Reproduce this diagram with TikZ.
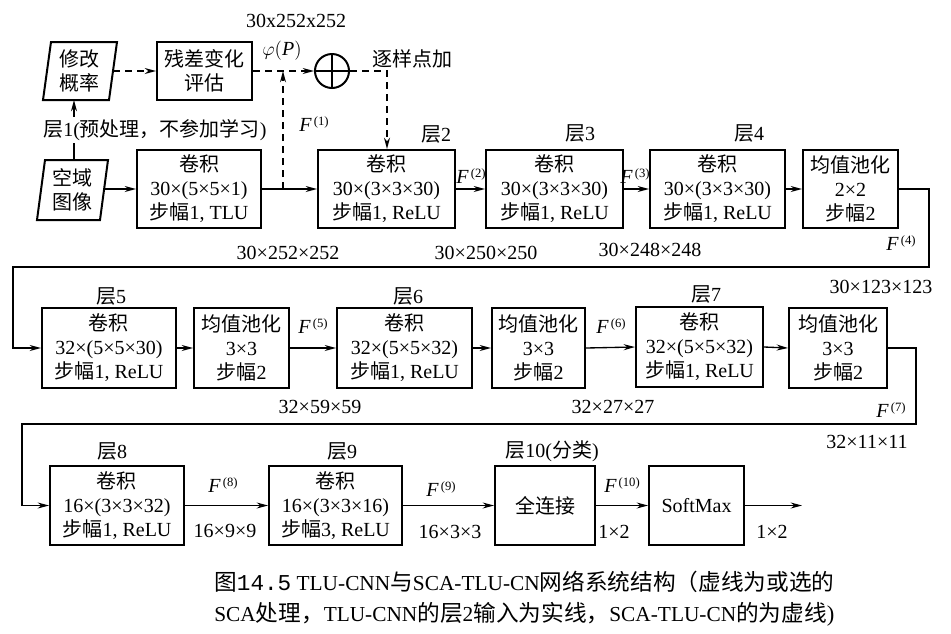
\documentclass[tikz,border=0pt]{standalone}
\usepackage{fontspec}
\setmainfont{Liberation Serif}
\newfontfamily\cjkfont{Noto Sans CJK SC}
\newfontfamily\capmono{Liberation Mono}
\newcommand\zh[1]{{\cjkfont #1}}
\newcommand\Fl[1]{\textit{F}\kern1.5pt{\fontsize{9.5}{9.5}\selectfont\raisebox{1.1ex}{(#1)}}}
\usetikzlibrary{arrows.meta}
\begin{document}
\begin{tikzpicture}[x=0.75pt,y=-0.75pt,
  font=\fontsize{15}{18}\selectfont,
  bx/.style 2 args={draw, line width=1.5pt, minimum width=#1*0.75pt, minimum height=#2*0.75pt, inner sep=0pt, align=center},
  lbl/.style={inner sep=0pt},
  conn/.style={line width=1pt},
  arr/.style={line width=1pt, -{Stealth[length=8.5pt,width=4.5pt]}},
  dsh/.style={line width=1pt, dash pattern=on 5.5pt off 3.5pt}
]
\useasboundingbox (0,0) rectangle (951,633);
\fill[white] (0,0) rectangle (951,633);

% ---------- top row (SCA branch) ----------
\draw[line width=1.5pt] (51,42) -- (117,42) -- (109,100) -- (43,100) -- cycle;
\node[lbl, align=center] (xg) at (80,71) {\zh{修改}\\\zh{概率}};
\coordinate (xgE) at (113,71);
\coordinate (xgS) at (74,100);

\node[bx={95}{58}] (cc) at (204.5,71) {\zh{残差变化}\\\zh{评估}};
\node[draw, circle, line width=1.5pt, minimum size=25.5pt, inner sep=0pt] (sum) at (332,71) {};
\draw[line width=1pt] (sum.west) -- (sum.east) (sum.north) -- (sum.south);

\node[lbl] (dimtop) at (296,21) {30x252x252};
\node[lbl] (phi) at (282,51) {$\varphi(\textit{P})$};
\node[lbl] (zyd) at (412,59) {\zh{逐样点加}};
\node[lbl] (f1) at (314,124) {\Fl{1}};

% ---------- row 1 ----------
\draw[line width=1.5pt] (45,160) -- (108,160) -- (100,220) -- (37,220) -- cycle;
\node[lbl, align=center] (ky) at (72,190) {\zh{空域}\\\zh{图像}};
\coordinate (kyE) at (104,189);
\coordinate (kyN) at (74,160);

\node[bx={124}{78}] (c1) at (199,189) {\zh{卷积}\\30×(5×5×1)\\\zh{步幅}1, TLU};
\node[bx={137}{78}] (c2) at (386.5,189) {\zh{卷积}\\30×(3×3×30)\\\zh{步幅}1, ReLU};
\node[bx={137}{78}] (c3) at (554.5,189) {\zh{卷积}\\30×(3×3×30)\\\zh{步幅}1, ReLU};
\node[bx={135}{78}] (c4) at (717.5,189) {\zh{卷积}\\30×(3×3×30)\\\zh{步幅}1, ReLU};
\node[bx={95}{78}] (p1) at (850.5,189) {\zh{均值池化}\\2×2\\\zh{步幅}2};

\node[lbl] (l2) at (436,134) {\zh{层}2};
\node[lbl] (l3) at (580,133) {\zh{层}3};
\node[lbl] (l4) at (749,133) {\zh{层}4};

\coordinate (jn) at (283,189);
\coordinate (jt) at (283,71);
\coordinate (dn) at (387,71);

\draw[arr] (kyE) -- (c1.west);
\draw[arr] (c1.east) -- (c2.west);
\draw[arr] (c2.east) -- (c3.west);
\draw[arr] (c3.east) -- (c4.west);
\draw[arr] (c4.east) -- (p1.west);

\draw[dsh, -{Stealth[length=8.5pt,width=4.5pt]}] (xgE) -- (cc.west);
\draw[dsh, -{Stealth[length=8.5pt,width=4.5pt]}] (cc.east) -- (sum.west);
\draw[dsh, -{Stealth[length=8.5pt,width=4.5pt]}] (jn) -- (jt);
\draw[dsh, -{Stealth[length=8.5pt,width=4.5pt]}] (sum.east) -- (dn) -- (c2.north -| dn);

\draw[arr] (kyN) -- (xgS);
\node[lbl, fill=white, inner ysep=2pt] (l1) at (155,130) {\zh{层}1(\zh{预处理，不参加学习})};

\node[lbl] (f2) at (471,176) {\Fl{2}};
\node[lbl] (f3) at (635,176) {\Fl{3}};
\node[lbl] (d1) at (288,253) {30×252×252};
\node[lbl] (d2) at (486,253) {30×250×250};
\node[lbl] (d3) at (650,250) {30×248×248};
\node[lbl] (f4) at (901,243) {\Fl{4}};
\node[lbl] (d4) at (881,287) {30×123×123};

% ---------- row 2 ----------
\node[bx={134}{80}] (c5) at (109,348) {\zh{卷积}\\32×(5×5×30)\\\zh{步幅}1, ReLU};
\node[bx={95}{80}] (p2) at (241.5,348) {\zh{均值池化}\\3×3\\\zh{步幅}2};
\node[bx={135}{80}] (c6) at (404.5,348) {\zh{卷积}\\32×(5×5×32)\\\zh{步幅}1, ReLU};
\node[bx={93}{80}] (p3) at (538.5,348) {\zh{均值池化}\\3×3\\\zh{步幅}2};
\node[bx={127}{80}] (c7) at (699.5,347) {\zh{卷积}\\32×(5×5×32)\\\zh{步幅}1, ReLU};
\node[bx={98}{80}] (p4) at (838,348) {\zh{均值池化}\\3×3\\\zh{步幅}2};

\node[lbl] (l5) at (111,296) {\zh{层}5};
\node[lbl] (l6) at (408,296) {\zh{层}6};
\node[lbl] (l7) at (706,294) {\zh{层}7};

\coordinate (r1a) at (929,189);
\coordinate (r1b) at (929,267);
\coordinate (r1c) at (13,267);
\draw[conn, -{Stealth[length=8.5pt,width=4.5pt]}] (p1.east) -- (r1a) -- (r1b) -- (r1c) -- (r1c |- c5.west) -- (c5.west);

\draw[arr] (c5.east) -- (p2.west);
\draw[arr] (p2.east) -- (c6.west);
\draw[arr] (c6.east) -- (p3.west);
\draw[arr] (p3.east) -- (c7.west);
\draw[arr] (c7.east) -- (p4.west);

\node[lbl] (f5) at (313,326) {\Fl{5}};
\node[lbl] (f6) at (611,326) {\Fl{6}};
\node[lbl] (f7) at (891,410) {\Fl{7}};
\node[lbl] (d5) at (320,407) {32×59×59};
\node[lbl] (d6) at (613,407) {32×27×27};
\node[lbl] (d7) at (867,442) {32×11×11};

% ---------- row 3 ----------
\node[bx={134}{79}] (c8) at (117,505.5) {\zh{卷积}\\16×(3×3×32)\\\zh{步幅}1, ReLU};
\node[bx={133}{79}] (c9) at (335.5,505.5) {\zh{卷积}\\16×(3×3×16)\\\zh{步幅}3, ReLU};
\node[bx={100}{79}] (fc) at (545,505.5) {\zh{全连接}};
\node[bx={95}{79}] (sm) at (696.5,505.5) {SoftMax};
\coordinate (out) at (802,505.5);

\node[lbl] (l8) at (112,451) {\zh{层}8};
\node[lbl] (l9) at (342,451) {\zh{层}9};
\node[lbl] (l10) at (552,451) {\zh{层}10(\zh{分类})};

\coordinate (r2a) at (916,348);
\coordinate (r2b) at (916,424);
\coordinate (r2c) at (22,424);
\draw[conn, -{Stealth[length=8.5pt,width=4.5pt]}] (p4.east) -- (r2a) -- (r2b) -- (r2c) -- (r2c |- c8.west) -- (c8.west);

\draw[arr] (c8.east) -- (c9.west);
\draw[arr] (c9.east) -- (fc.west);
\draw[arr] (fc.east) -- (sm.west);
\draw[arr] (sm.east) -- (out);

\node[lbl] (f8) at (223,485) {\Fl{8}};
\node[lbl] (f9) at (441,489) {\Fl{9}};
\node[lbl] (f10) at (622,485) {\Fl{10}};
\node[lbl] (d8) at (225,531) {16×9×9};
\node[lbl] (d9) at (450,532) {16×3×3};
\node[lbl] (d10) at (614,532) {1×2};
\node[lbl] (d11) at (772,532) {1×2};

% ---------- caption ----------
\node[lbl, anchor=west, font=\fontsize{16}{17}\selectfont] (cap1) at (214,582)
  {{\fontsize{17}{17}\cjkfont 图}{\capmono\fontsize{17}{17}\selectfont 14.5} TLU-CNN{\fontsize{17}{17}\cjkfont 与}SCA-TLU-CN{\fontsize{17}{17}\cjkfont 网络系统结构（虚线为或选的}};
\node[lbl, anchor=west, font=\fontsize{16}{17}\selectfont] (cap2) at (214,614)
  {SCA{\fontsize{17}{17}\cjkfont 处理，}TLU-CNN{\fontsize{17}{17}\cjkfont 的层}2{\fontsize{17}{17}\cjkfont 输入为实线，}SCA-TLU-CN{\fontsize{17}{17}\cjkfont 的为虚线}{\fontsize{17}{17}\selectfont)}};
\end{tikzpicture}
\end{document}
